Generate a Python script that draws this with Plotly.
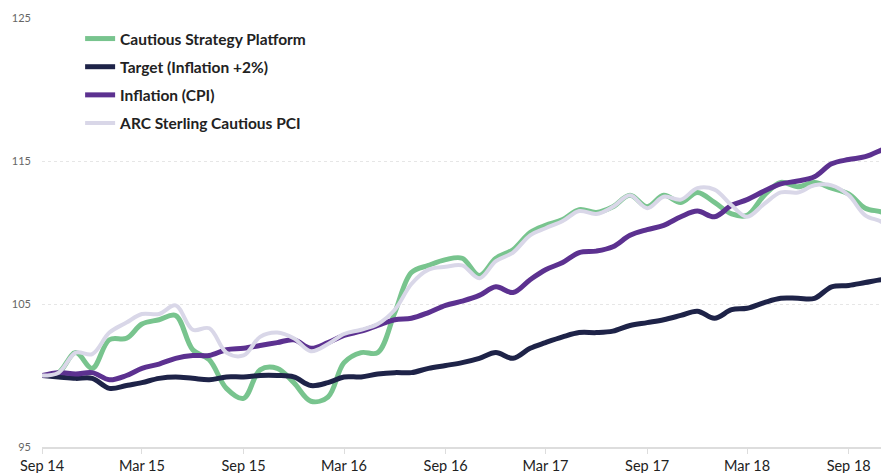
import pandas as pd
import plotly.graph_objects as go

# Monthly observations from Sep 2014 (last point mid-Nov 2018)
dates = list(pd.date_range("2014-09-01", "2018-11-01", freq="MS")) + [pd.Timestamp("2018-11-13")]

cautious_platform = [100.0, 100.2, 101.6, 100.5, 102.5, 102.6, 103.6, 103.9, 104.2, 101.8,
                     101.1, 99.1, 98.4, 100.4, 100.5, 99.5, 98.2, 98.5, 100.9, 101.6,
                     101.6, 104.4, 107.2, 107.7, 108.1, 108.2, 107.0, 108.2, 108.8, 110.0,
                     110.5, 110.9, 111.6, 111.4, 111.8, 112.6, 111.8, 112.6, 112.1, 112.8,
                     112.1, 111.3, 111.2, 112.6, 113.5, 113.2, 113.5, 113.1, 112.7, 111.7,
                     111.4, 111.0]

target = [100.0, 99.9, 99.8, 99.8, 99.1, 99.3, 99.5, 99.8, 99.9, 99.8,
          99.7, 99.9, 99.9, 100.0, 100.0, 99.9, 99.3, 99.5, 99.9, 99.9,
          100.1, 100.2, 100.2, 100.5, 100.7, 100.9, 101.2, 101.6, 101.2, 101.9,
          102.3, 102.7, 103.0, 103.0, 103.1, 103.5, 103.7, 103.9, 104.2, 104.5,
          104.0, 104.6, 104.7, 105.1, 105.4, 105.4, 105.4, 106.2, 106.3, 106.5,
          106.7, 106.7]

inflation = [100.0, 100.2, 100.1, 100.2, 99.7, 100.0, 100.5, 100.8, 101.2, 101.4,
             101.4, 101.8, 101.9, 102.1, 102.3, 102.5, 101.9, 102.3, 102.8, 103.1,
             103.5, 103.9, 104.0, 104.4, 104.9, 105.2, 105.6, 106.2, 105.8, 106.7,
             107.4, 107.9, 108.6, 108.7, 109.0, 109.8, 110.2, 110.5, 111.1, 111.5,
             111.1, 111.9, 112.3, 112.9, 113.4, 113.6, 113.9, 114.8, 115.1, 115.3,
             115.8, 116.0]

arc_pci = [100.0, 100.2, 101.6, 101.5, 103.0, 103.7, 104.3, 104.3, 104.9, 103.2,
           103.3, 101.6, 101.4, 102.7, 103.0, 102.6, 101.7, 102.2, 102.9, 103.2,
           103.6, 104.6, 106.4, 107.4, 107.6, 107.7, 106.8, 108.0, 108.6, 109.8,
           110.3, 110.8, 111.5, 111.3, 111.8, 112.6, 111.7, 112.5, 112.3, 113.1,
           113.0, 111.9, 111.1, 112.0, 112.8, 112.8, 113.3, 113.3, 112.6, 111.2,
           110.7, 110.0]

tick_dates = ["2014-09-01", "2015-03-01", "2015-09-01", "2016-03-01", "2016-09-01",
              "2017-03-01", "2017-09-01", "2018-03-01", "2018-09-01"]
tick_labels = ["Sep 14", "Mar 15", "Sep 15", "Mar 16", "Sep 16",
               "Mar 17", "Sep 17", "Mar 18", "Sep 18"]
y_ticks = [95, 105, 115, 125]

series = [
    ("Cautious Strategy Platform", cautious_platform, "#78c48e", 5),
    ("Target (Inflation +2%)", target, "#1e2348", 5),
    ("Inflation (CPI)", inflation, "#5c3190", 5),
    ("ARC Sterling Cautious PCI", arc_pci, "#d9d7e8", 4),
]

fig = go.Figure()
for i, (name, vals, color, w) in enumerate(series):
    fig.add_trace(go.Scatter(
        x=dates, y=vals, name=name, mode="lines",
        line=dict(color=color, width=w, shape="spline", smoothing=1),
        legendgroup=f"g{i}", hoverinfo="skip",
    ))

# The page body adds an 8px offset, so the figure is 8px smaller than the window
fig.update_layout(
    width=881, height=465,
    margin=dict(l=34, r=0, t=10, b=26),
    paper_bgcolor="white", plot_bgcolor="white",
    font=dict(family="Lato, sans-serif", color="#222"),
    showlegend=True,
    legend=dict(
        x=0.045, y=0.9907, xanchor="left", yanchor="top",
        bgcolor="rgba(0,0,0,0)", borderwidth=0,
        font=dict(size=15.5, color="#222", weight="bold"),
        tracegroupgap=5, traceorder="grouped",
    ),
    xaxis=dict(
        range=[dates[0], dates[-1]],
        tickmode="array", tickvals=tick_dates, ticktext=tick_labels,
        showgrid=False, zeroline=False,
        showline=True, linecolor="#dddddd", linewidth=2,
        ticks="outside", ticklen=5, tickcolor="#dddddd", tickwidth=1,
        tickfont=dict(size=14.5, color="#222"),
    ),
    yaxis=dict(
        range=[95, 125], tickvals=y_ticks,
        showgrid=True, gridcolor="#e6e6e6", griddash="dot", gridwidth=1,
        zeroline=False, showline=False, ticks="",
        tickfont=dict(size=11, color="#666"),
        ticklabelstandoff=10,
    ),
)

fig.write_html("out.html")
